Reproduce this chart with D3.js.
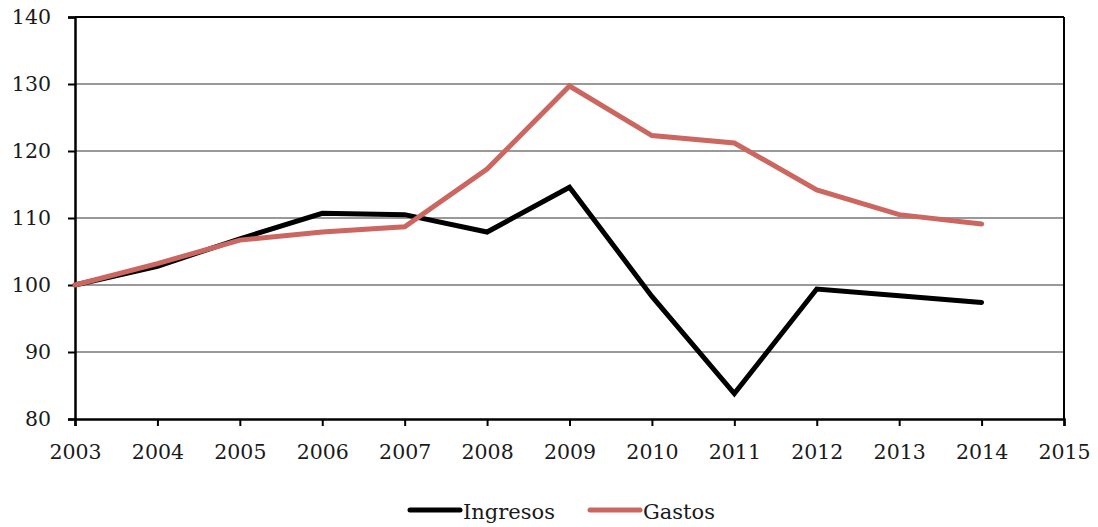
<!DOCTYPE html>
<html>
<head>
<meta charset="utf-8">
<script src="https://cdn.jsdelivr.net/npm/d3@7"></script>
<style>
  body { margin: 0; background: #fff; }
  text { font-family: "DejaVu Serif", serif; fill: #1a1a1a; }
</style>
</head>
<body>
<svg id="grafico"></svg>
<script>
// Dados
var anos = [2003, 2004, 2005, 2006, 2007, 2008, 2009, 2010, 2011, 2012, 2013, 2014];
var ingresos = [100, 102.8, 106.9, 110.7, 110.5, 107.9, 114.6, 98.3, 83.8, 99.4, 98.4, 97.4];
var gastos = [100, 103.2, 106.7, 107.9, 108.7, 117.3, 129.7, 122.3, 121.2, 114.2, 110.5, 109.1];
var ticksX = [2003, 2004, 2005, 2006, 2007, 2008, 2009, 2010, 2011, 2012, 2013, 2014, 2015];
var ticksY = [80, 90, 100, 110, 120, 130, 140];
var series = [
  { nome: 'Ingresos', valores: ingresos, cor: '#000000' },
  { nome: 'Gastos', valores: gastos, cor: '#cc6660' }
];

var largura = 1098, altura = 527;
var margem = { esquerda: 75, direita: 34, superior: 17, inferior: 108 };
var larguraPlotagem = largura - margem.esquerda - margem.direita;
var alturaPlotagem = altura - margem.superior - margem.inferior;

var svg = d3.select('#grafico')
            .attr('width', largura)
            .attr('height', altura);

var plotagem = svg.append('g')
                  .attr('transform', 'translate(' + margem.esquerda + ',' + margem.superior + ')');

var x = d3.scaleLinear().domain([2003, 2015]).range([0, larguraPlotagem]);
var y = d3.scaleLinear().domain([80, 140]).range([alturaPlotagem, 0]);

// Linhas de grade
plotagem.append('g')
        .selectAll('line')
        .data(ticksY.filter(d => d > 80 && d < 140))
        .enter()
        .append('line')
        .attr('x1', 0).attr('x2', larguraPlotagem)
        .attr('y1', d => y(d)).attr('y2', d => y(d))
        .attr('stroke', '#999').attr('stroke-width', 2);

// Borda superior e direita
plotagem.append('line')
        .attr('x1', 0).attr('x2', larguraPlotagem)
        .attr('y1', 0).attr('y2', 0)
        .attr('stroke', '#000').attr('stroke-width', 2);
plotagem.append('line')
        .attr('x1', larguraPlotagem).attr('x2', larguraPlotagem)
        .attr('y1', 0).attr('y2', alturaPlotagem)
        .attr('stroke', '#000').attr('stroke-width', 2);

// Eixos
var eixoX = d3.axisBottom(x).tickValues(ticksX).tickFormat(d3.format('d')).tickSize(7).tickPadding(18);
var eixoY = d3.axisLeft(y).tickValues(ticksY).tickSize(7).tickPadding(17);

plotagem.append('g')
        .attr('transform', 'translate(0,' + alturaPlotagem + ')')
        .call(eixoX)
        .call(g => g.select('.domain').attr('stroke-width', 2.5))
        .call(g => g.selectAll('.tick line').attr('stroke-width', 2))
        .call(g => g.selectAll('.tick text').style('font-size', '20.5px').style('font-family', '"DejaVu Serif", serif').attr('fill', '#1a1a1a'));

plotagem.append('g')
        .call(eixoY)
        .call(g => g.select('.domain').attr('stroke-width', 2.5))
        .call(g => g.selectAll('.tick line').attr('stroke-width', 2))
        .call(g => g.selectAll('.tick text').style('font-size', '20.5px').style('font-family', '"DejaVu Serif", serif').attr('fill', '#1a1a1a'));

// Linhas das séries
var linha = d3.line()
              .x((d, i) => x(anos[i]))
              .y(d => y(d));

plotagem.selectAll('.serie')
        .data(series)
        .enter()
        .append('path')
        .classed('serie', true)
        .attr('d', d => linha(d.valores))
        .attr('fill', 'none')
        .attr('stroke', d => d.cor)
        .attr('stroke-width', 5)
        .attr('stroke-linejoin', 'miter')
        .attr('stroke-linecap', 'round');

// Legenda
var legenda = svg.append('g').attr('transform', 'translate(410,510)');
var posicoes = [0, 180];
series.forEach(function(s, i) {
  var g = legenda.append('g').attr('transform', 'translate(' + posicoes[i] + ',0)');
  g.append('line')
   .attr('x1', 0).attr('x2', 50)
   .attr('stroke', s.cor).attr('stroke-width', 5).attr('stroke-linecap', 'round');
  g.append('text')
   .attr('x', 53).attr('y', 9)
   .style('font-size', '21px')
   .text(s.nome);
});
</script>
</body>
</html>
